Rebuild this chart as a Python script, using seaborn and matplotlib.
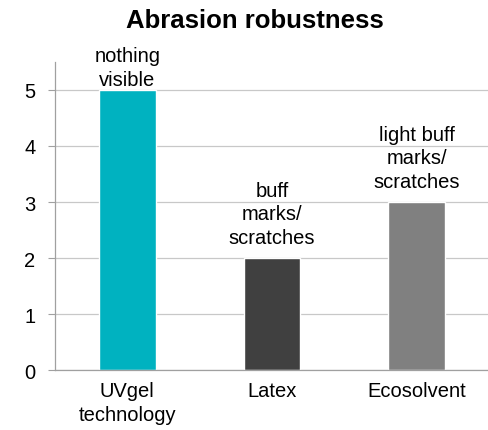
import matplotlib
matplotlib.use("Agg")
import matplotlib.pyplot as plt
import seaborn as sns
import pandas as pd

# Chart data
categories = ["UVgel\ntechnology", "Latex", "Ecosolvent"]
scores = [5, 2, 3]
notes = ["nothing\nvisible", "buff\nmarks/\nscratches", "light buff\nmarks/\nscratches"]
bar_colors = ["#00B2C0", "#404040", "#808080"]
note_offsets = [1, 8, 8]  # points above each bar

df = pd.DataFrame({"tech": categories, "score": scores})

sns.set_style("white")
plt.rcParams["font.family"] = ["Liberation Sans", "DejaVu Sans"]
plt.rcParams["text.color"] = "black"
plt.rcParams["xtick.color"] = "black"
plt.rcParams["ytick.color"] = "black"

fig = plt.figure(figsize=(4.89, 4.31), dpi=100)
ax = fig.add_axes([0.1125, 0.139, 0.8875, 0.715])

sns.barplot(data=df, x="tech", y="score", hue="tech", palette=bar_colors,
            width=0.39, saturation=1, legend=False, ax=ax)

ax.set_ylim(0, 5.5)
ax.set_xlim(-0.5, 2.5)
ax.set_yticks(range(0, 6))
ax.yaxis.grid(True, color="#C8C8C8", linewidth=0.9)
ax.set_axisbelow(True)

for s in ["top", "right"]:
    ax.spines[s].set_visible(False)
for s in ["left", "bottom"]:
    ax.spines[s].set_color("#A0A0A0")
    ax.spines[s].set_linewidth(0.9)

ax.set_xticks([-0.5, 0.5, 1.5, 2.5], minor=True)
ax.tick_params(axis="x", which="major", length=0, labelsize=14.5, pad=8)
ax.tick_params(axis="x", which="minor", length=5, color="#A0A0A0", direction="out")
ax.tick_params(axis="y", length=5, color="#A0A0A0", labelcolor="black", direction="out",
               labelsize=14.5, pad=9, left=True)
for lbl in ax.get_xticklabels():
    lbl.set_linespacing(1.3)

ax.set_xlabel("")
ax.set_ylabel("")

for i, (v, t) in enumerate(zip(scores, notes)):
    ax.annotate(t, (i, v), xytext=(0, note_offsets[i]), textcoords="offset points",
                ha="center", va="bottom", fontsize=14.5, linespacing=1.3,
                annotation_clip=False)

fig.text(0.522, 0.951, "Abrasion robustness", ha="center", va="center",
         fontsize=18.5, fontweight="bold")

fig.savefig("out.png", dpi=100)
